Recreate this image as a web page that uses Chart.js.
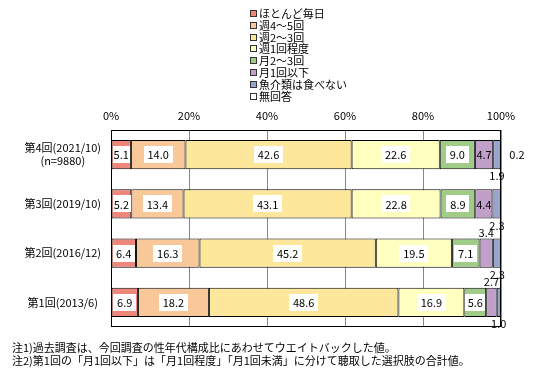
<!DOCTYPE html>
<html>
<head>
<meta charset="utf-8">
<script src="https://cdn.jsdelivr.net/npm/chart.js@4"></script>
<style>
  body { margin: 0; background: #fff; font-family: "Noto Sans CJK JP", sans-serif; }
  #wrap { position: relative; width: 533px; height: 388px; }
  #legend { position: absolute; left: 250px; top: 8px; font-size: 11px; line-height: 11.8px; }
  #legend div { white-space: nowrap; }
  #legend span.box { display: inline-block; width: 5px; height: 5px; border: 1px solid #333; margin-right: 2px; vertical-align: 1px; }
  .note { position: absolute; left: 12px; font-size: 11px; line-height: 13px; white-space: nowrap; }
</style>
</head>
<body>
<div id="wrap">
  <canvas id="myChart" width="533" height="388"></canvas>
  <div id="legend"></div>
  <div class="note" style="top:341px">注1)過去調査は、今回調査の性年代構成比にあわせてウエイトバックした値。</div>
  <div class="note" style="top:354px">注2)第1回の「月1回以下」は「月1回程度」「月1回未満」に分けて聴取した選択肢の合計値。</div>
</div>
<script>
const categories = [["第4回(2021/10)", "(n=9880)"], "第3回(2019/10)", "第2回(2016/12)", "第1回(2013/6)"];
const seriesNames = ["ほとんど毎日", "週4～5回", "週2～3回", "週1回程度", "月2～3回", "月1回以下", "魚介類は食べない", "無回答"];
const almostDaily = [5.1, 5.2, 6.4, 6.9];
const week4to5 = [14.0, 13.4, 16.3, 18.2];
const week2to3 = [42.6, 43.1, 45.2, 48.6];
const weekOnce = [22.6, 22.8, 19.5, 16.9];
const month2to3 = [9.0, 8.9, 7.1, 5.6];
const monthOnceOrLess = [4.7, 4.4, 3.4, 2.7];
const noFish = [1.9, 2.3, 2.3, 1.0];
const noAnswer = [0.2, 0, 0, 0];
const xTicks = [0, 20, 40, 60, 80, 100];

const seriesValues = [almostDaily, week4to5, week2to3, weekOnce, month2to3, monthOnceOrLess, noFish, noAnswer];
const colors = ["#EE877A", "#F9C898", "#FDE79A", "#FFFFC0", "#A0CC88", "#C0A0C8", "#98A4CC", "#FFFFFF"];
// where to put labels of thin segments
const smallPos = ["", "", "", "", "", "above", "below", "right"];
const FONT = '"Noto Sans CJK JP", sans-serif';

// HTML legend (vertical list)
const legendEl = document.getElementById("legend");
seriesNames.forEach((name, i) => {
  const row = document.createElement("div");
  row.innerHTML = '<span class="box" style="background:' + colors[i] + '"></span>' + name;
  legendEl.appendChild(row);
});

const labelPlugin = {
  id: "segLabels",
  afterDatasetsDraw(chart) {
    const c = chart.ctx;
    const area = chart.chartArea;
    c.save();
    c.font = "11px " + FONT;
    c.textAlign = "center";
    c.textBaseline = "middle";
    chart.data.datasets.forEach((ds, di) => {
      const meta = chart.getDatasetMeta(di);
      meta.data.forEach((bar, i) => {
        const v = ds.data[i];
        if (!v) return;
        const p = bar.getProps(["x", "base", "y", "height"], true);
        const left = Math.min(p.x, p.base), right = Math.max(p.x, p.base);
        const cx = (left + right) / 2;
        const txt = v.toFixed(1);
        const tw = c.measureText(txt).width;
        if (v >= 5) {
          const bw = Math.min(tw + 8, right - left - 2);
          c.fillStyle = "#fff";
          c.fillRect(Math.round(cx - bw / 2), Math.round(p.y - 8.5), Math.round(bw), 17);
          c.fillStyle = "#000";
          c.fillText(txt, cx, p.y + 0.5);
        } else if (v >= 4) {
          c.fillStyle = "#000";
          c.fillText(txt, cx, p.y + 0.5);
        } else {
          c.fillStyle = "#000";
          const pos = smallPos[di];
          if (pos === "above") c.fillText(txt, cx, p.y - p.height / 2 - 6);
          else if (pos === "below") c.fillText(txt, cx, p.y + p.height / 2 + 7);
          else c.fillText(txt, area.right + 16, p.y);
        }
      });
    });
    c.restore();
  },
  afterDraw(chart) {
    const a = chart.chartArea;
    const c = chart.ctx;
    c.save();
    c.strokeStyle = "#000";
    c.lineWidth = 1;
    c.strokeRect(Math.round(a.left) + 0.5, Math.round(a.top) + 0.5, Math.round(a.right - a.left) - 1, Math.round(a.bottom - a.top) - 1);
    c.restore();
  }
};

new Chart(document.getElementById("myChart"), {
  type: "bar",
  data: {
    labels: categories,
    datasets: seriesValues.map((vals, i) => ({
      label: seriesNames[i],
      data: vals,
      backgroundColor: colors[i],
      borderColor: "#000",
      borderWidth: 1,
      borderSkipped: false,
      categoryPercentage: 1,
      barPercentage: 0.59,
    })),
  },
  options: {
    indexAxis: "y",
    responsive: false,
    animation: false,
    layout: { padding: { left: 0, right: 32, top: 0, bottom: 61 } },
    plugins: { legend: { display: false }, tooltip: { enabled: false } },
    scales: {
      x: {
        position: "top",
        stacked: true,
        min: 0,
        max: 100,
        afterBuildTicks: (scale) => { scale.ticks = xTicks.map((v) => ({ value: v })); },
        afterFit: (scale) => { scale.height = 130; },
        ticks: {
          callback: (v) => v + "%",
          font: { family: FONT, size: 11 },
          color: "#000",
          padding: 8,
          maxRotation: 0,
        },
        grid: { color: "#888", drawTicks: false },
        border: { display: false },
      },
      y: {
        stacked: true,
        afterFit: (scale) => { scale.width = 111; },
        ticks: {
          font: { family: FONT, size: 11 },
          color: "#000",
          crossAlign: "center",
          padding: 10,
        },
        grid: { display: false, drawTicks: false },
        border: { display: false },
      },
    },
  },
  plugins: [labelPlugin],
});
</script>
</body>
</html>
